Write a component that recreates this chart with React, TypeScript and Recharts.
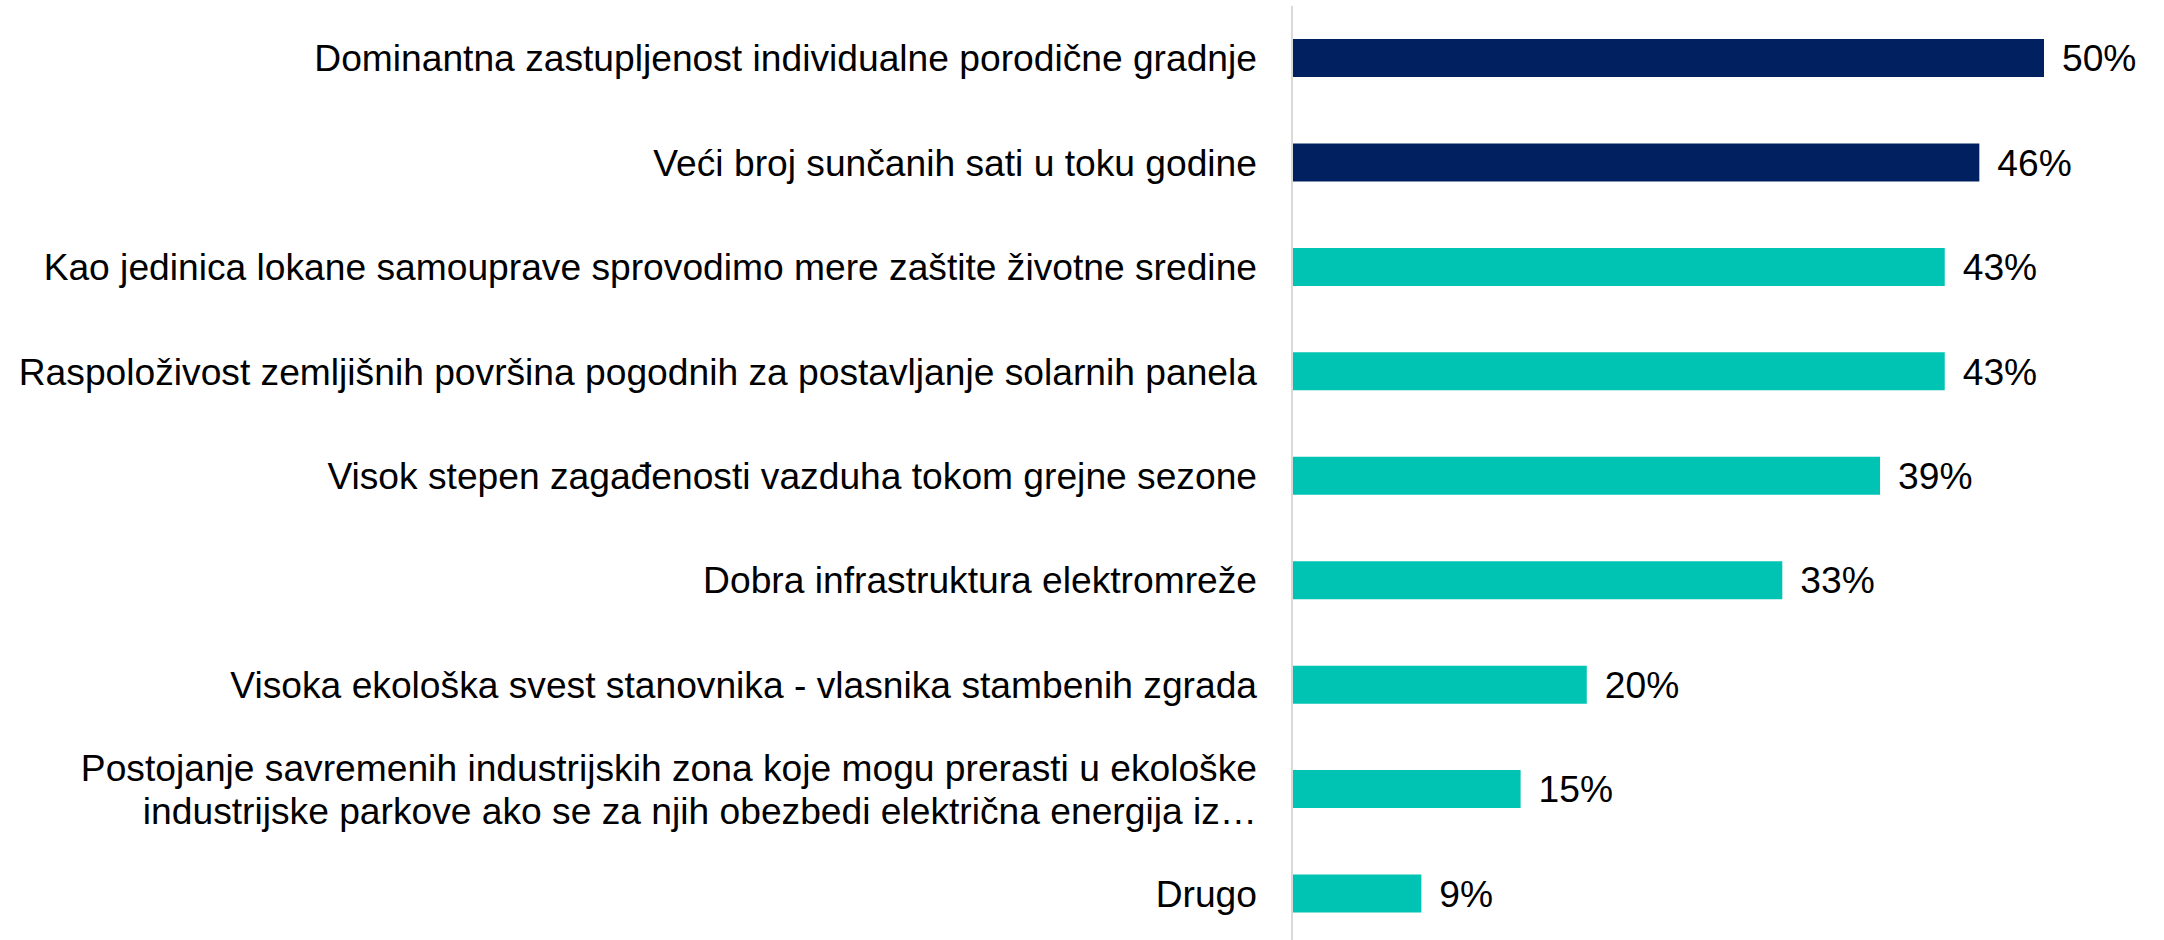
import { BarChart, Bar, XAxis, YAxis, Cell, LabelList } from "recharts";

const categories = [
  "Dominantna zastupljenost individualne porodične gradnje",
  "Veći broj sunčanih sati u toku godine",
  "Kao jedinica lokane samouprave sprovodimo mere zaštite životne sredine",
  "Raspoloživost zemljišnih površina pogodnih za postavljanje solarnih panela",
  "Visok stepen zagađenosti vazduha tokom grejne sezone",
  "Dobra infrastruktura elektromreže",
  "Visoka ekološka svest stanovnika - vlasnika stambenih zgrada",
  "Postojanje savremenih industrijskih zona koje mogu prerasti u ekološke\nindustrijske parkove ako se za njih obezbedi električna energija iz…",
  "Drugo",
];

// shares; labels show them rounded
const values = [50, 45.7, 43.4, 43.4, 39.1, 32.6, 19.6, 15.2, 8.6];

// first two answers are highlighted in navy
const highlighted = [true, true, false, false, false, false, false, false, false];

const NAVY = "#002060";
const TEAL = "#00C4B3";
const FONT = "'Liberation Sans', Arial, sans-serif";
const FS = 37.2;

const data = categories.map((name, i) => ({ name, value: values[i], hi: highlighted[i] }));

function CategoryTick({ x, y, payload }: any) {
  const lines = String(payload.value).split("\n");
  const lh = 43;
  const start = -((lines.length - 1) * lh) / 2;
  return (
    <text x={x} y={y} textAnchor="end" fontSize={FS} fontFamily={FONT} fill="#000">
      {lines.map((l, i) => (
        <tspan key={i} x={x} dy={i === 0 ? start + 13 : lh}>
          {l}
        </tspan>
      ))}
    </text>
  );
}

export default function App() {
  return (
    <div style={{ width: 2164, height: 940, background: "#fff", overflow: "hidden" }}>
      <style>{`body{margin:0}`}</style>
      <BarChart
        width={2164}
        height={946}
        data={data}
        layout="vertical"
        margin={{ top: 6, right: 120, bottom: 0, left: 0 }}
      >
        <XAxis type="number" domain={[0, 50]} hide />
        <YAxis
          type="category"
          dataKey="name"
          width={1292}
          tickLine={false}
          tickSize={0}
          tickMargin={35}
          axisLine={{ stroke: "#d9d9d9", strokeWidth: 2 }}
          tick={<CategoryTick />}
          interval={0}
        />
        <Bar dataKey="value" barSize={38} isAnimationActive={false}>
          {data.map((d, i) => (
            <Cell key={i} fill={d.hi ? NAVY : TEAL} />
          ))}
          <LabelList
            dataKey="value"
            position="right"
            offset={18}
            formatter={(v: any) => `${Math.round(v)}%`}
            style={{ fontSize: FS, fontFamily: FONT, fill: "#000" }}
          />
        </Bar>
      </BarChart>
    </div>
  );
}
